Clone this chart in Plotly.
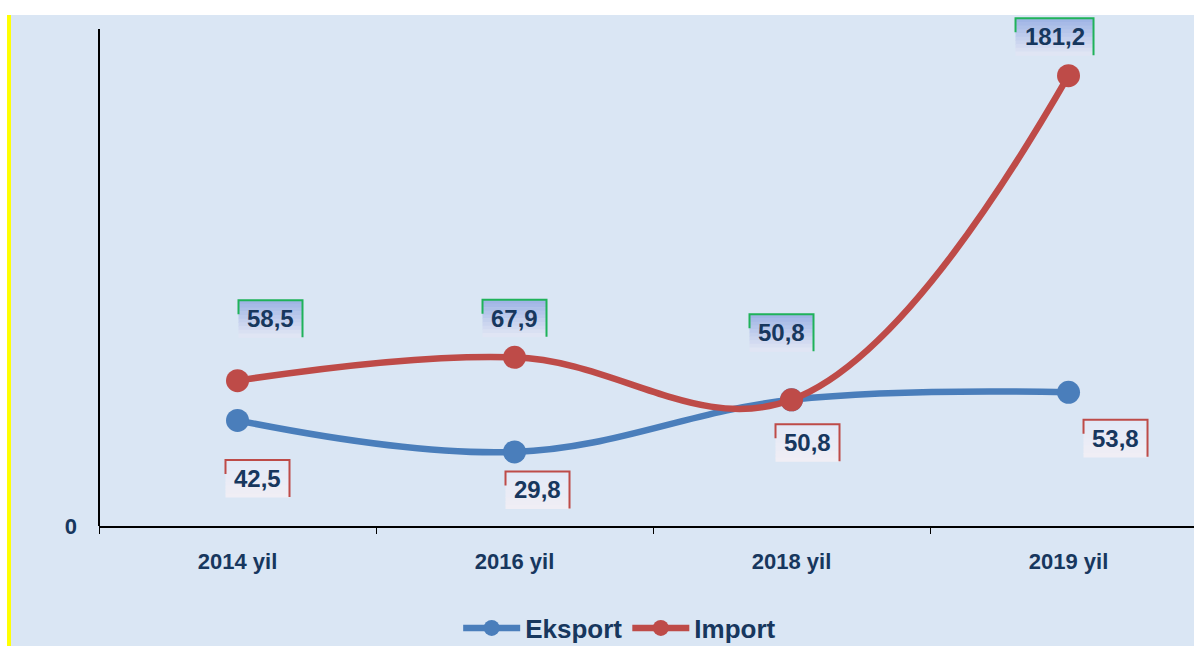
import plotly.graph_objects as go

categories = ["2014 yil", "2016 yil", "2018 yil", "2019 yil"]
eksport = [42.5, 29.8, 50.8, 53.8]
import_vals = [58.5, 67.9, 50.8, 181.2]
series_names = ["Eksport", "Import"]
y_ticks = [0]
y_tick_text = ["0"]
y_axis_max = 200

# label box offsets (pixels, screen dx, dy) relative to the point
imp_off = [(33, -62), (0, -39), (-10, -67), (-14, -39)]
eks_off = [(20, 58), (23, 38), (16, 43), (47, 46)]

BLUE = "#4a7ebb"
RED = "#be4b48"
GREEN = "#1fb25a"
NAVY = "#17375e"
FONT = "Liberation Sans, Arial, sans-serif"

# plot area extends 14px above the top of the value axis so labels are not clipped
PLOT_H = 511
AXIS_H = 497
y_range_top = y_axis_max * PLOT_H / AXIS_H

fig = go.Figure()
fig.add_trace(go.Scatter(
    x=categories, y=eksport, name=series_names[0], mode="lines+markers",
    line=dict(color=BLUE, width=6.5, shape="spline", smoothing=1.1),
    marker=dict(size=23, color=BLUE), hoverinfo="skip", cliponaxis=False))
fig.add_trace(go.Scatter(
    x=categories, y=import_vals, name=series_names[1], mode="lines+markers",
    line=dict(color=RED, width=6.5, shape="spline", smoothing=1.1),
    marker=dict(size=23, color=RED), hoverinfo="skip", cliponaxis=False))

def fmt(v):
    return f"{v:.1f}".replace(".", ",")

H = 37
annotations = []
shapes = []
# background panel and yellow strip
shapes.append(dict(type="rect", xref="paper", yref="paper", x0=-0.0804, x1=1.0, y0=-0.25, y1=1.0,
                   fillcolor="#dae6f4", line=dict(width=0), layer="below"))
shapes.append(dict(type="rect", xref="paper", yref="paper", x0=-0.0840, x1=-0.0804, y0=-0.25, y1=1.0,
                   fillcolor="#ffff00", line=dict(width=0), layer="below"))
# value axis line (0 .. axis max)
shapes.append(dict(type="line", xref="paper", yref="y", x0=0, x1=0, y0=0, y1=y_axis_max,
                   line=dict(color="black", width=2), layer="above"))

def lerp(c1, c2, t):
    return "rgb(%d,%d,%d)" % tuple(round(a + (b - a) * t) for a, b in zip(c1, c2))

NB = 10
for vals, offs, ctop, cbot, bc in [
        (import_vals, imp_off, (160, 181, 229), (224, 229, 244), GREEN),
        (eksport, eks_off, (226, 233, 247), (240, 238, 245), RED)]:
    for c, v, (dx, dy) in zip(categories, vals, offs):
        txt = fmt(v)
        W = 64 + 14 * (len(txt) - 4)
        L, R = dx - W / 2, dx + W / 2
        T, B = -dy + H / 2, -dy - H / 2
        for i in range(NB):
            y1 = T - (H * i / NB)
            y0 = T - (H * (i + 1) / NB)
            shapes.append(dict(
                type="rect", xref="x", yref="y", xsizemode="pixel", ysizemode="pixel",
                xanchor=c, yanchor=v, x0=L, x1=R, y0=y0 - 0.6, y1=y1,
                fillcolor=lerp(ctop, cbot, i / (NB - 1)), line=dict(width=0)))
        shapes.append(dict(
            type="path", xref="x", yref="y", xsizemode="pixel", ysizemode="pixel",
            xanchor=c, yanchor=v,
            path=f"M{L},{T - 14} L{L},{T} L{R},{T} L{R},{B}",
            line=dict(color=bc, width=2)))
        annotations.append(dict(
            x=c, y=v, xref="x", yref="y", text=txt, showarrow=False,
            xshift=dx, yshift=-dy, font=dict(family=FONT, size=24, color=NAVY, weight="bold")))

fig.update_layout(
    width=1194, height=646,
    margin=dict(l=99, r=0, t=15, b=120, autoexpand=False),
    paper_bgcolor="white", plot_bgcolor="rgba(0,0,0,0)",
    font=dict(family=FONT, color=NAVY),
    showlegend=True,
    legend=dict(orientation="h", x=0.4755, xanchor="center", y=-0.1996, yanchor="middle",
                font=dict(family=FONT, size=26, color=NAVY, weight="bold"),
                bgcolor="rgba(0,0,0,0)", itemwidth=57),
    annotations=annotations, shapes=shapes,
    xaxis=dict(type="category", range=[-0.5, 3.453], showgrid=False, zeroline=False,
               showline=True, linecolor="black", linewidth=2, automargin=False,
               ticks="outside", ticklen=6, tickcolor="black", tickwidth=1,
               tickson="boundaries", ticklabelstandoff=15,
               tickfont=dict(family=FONT, size=22, color=NAVY, weight="bold")),
    yaxis=dict(range=[0, y_range_top], tickvals=y_ticks, ticktext=y_tick_text, showgrid=False,
               zeroline=False, showline=False, automargin=False,
               ticks="", ticklabelstandoff=21,
               tickfont=dict(family=FONT, size=22, color=NAVY, weight="bold")),
)

fig.write_html("out.html", config={"displayModeBar": False},
               post_script="document.body.style.margin='0';document.body.style.overflow='hidden';")
